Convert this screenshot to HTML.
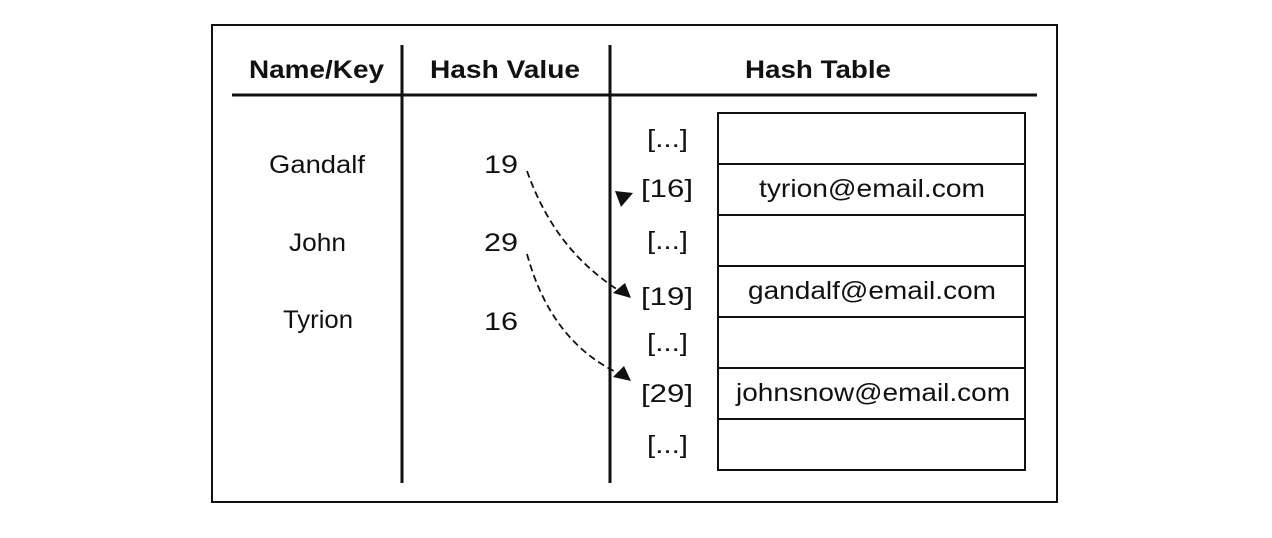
<!DOCTYPE html>
<html><head><meta charset="utf-8"><style>
html,body{margin:0;padding:0;background:#fff;}
svg{display:block;font-family:"Liberation Sans",sans-serif;}
</style></head><body>
<svg width="1272" height="538" viewBox="0 0 1272 538">
<rect x="212" y="25" width="845" height="477" fill="#fff" stroke="#111" stroke-width="2"/>
<line x1="232" y1="95" x2="1037" y2="95" stroke="#111" stroke-width="3"/>
<line x1="402" y1="45" x2="402" y2="483" stroke="#111" stroke-width="3"/>
<line x1="610" y1="45" x2="610" y2="483" stroke="#111" stroke-width="3"/>
<g font-weight="bold" font-size="25" fill="#111" lengthAdjust="spacingAndGlyphs">
<text x="249" y="78" textLength="135" lengthAdjust="spacingAndGlyphs">Name/Key</text>
<text x="430" y="78" textLength="150" lengthAdjust="spacingAndGlyphs">Hash Value</text>
<text x="745" y="78" textLength="146" lengthAdjust="spacingAndGlyphs">Hash Table</text>
</g>
<g font-size="25" fill="#111">
<text x="269" y="173" textLength="96" lengthAdjust="spacingAndGlyphs">Gandalf</text>
<text x="289" y="251" textLength="57" lengthAdjust="spacingAndGlyphs">John</text>
<text x="283" y="328" textLength="70" lengthAdjust="spacingAndGlyphs">Tyrion</text>
<text x="484" y="173" textLength="34" lengthAdjust="spacingAndGlyphs">19</text>
<text x="484" y="251" textLength="34" lengthAdjust="spacingAndGlyphs">29</text>
<text x="484" y="330" textLength="34" lengthAdjust="spacingAndGlyphs">16</text>
<text x="647" y="147" textLength="41" lengthAdjust="spacingAndGlyphs">[...]</text>
<text x="641" y="197" textLength="52" lengthAdjust="spacingAndGlyphs">[16]</text>
<text x="647" y="249" textLength="41" lengthAdjust="spacingAndGlyphs">[...]</text>
<text x="641" y="305" textLength="52" lengthAdjust="spacingAndGlyphs">[19]</text>
<text x="647" y="351" textLength="41" lengthAdjust="spacingAndGlyphs">[...]</text>
<text x="641" y="402" textLength="52" lengthAdjust="spacingAndGlyphs">[29]</text>
<text x="647" y="453" textLength="41" lengthAdjust="spacingAndGlyphs">[...]</text>
</g>
<g fill="#fff" stroke="#111" stroke-width="2">
<rect x="718" y="113" width="307" height="51"/>
<rect x="718" y="164" width="307" height="51"/>
<rect x="718" y="215" width="307" height="51"/>
<rect x="718" y="266" width="307" height="51"/>
<rect x="718" y="317" width="307" height="51"/>
<rect x="718" y="368" width="307" height="51"/>
<rect x="718" y="419" width="307" height="51"/>
</g>
<g font-size="25" fill="#111">
<text x="759" y="197" textLength="226" lengthAdjust="spacingAndGlyphs">tyrion@email.com</text>
<text x="748" y="299" textLength="248" lengthAdjust="spacingAndGlyphs">gandalf@email.com</text>
<text x="736" y="401" textLength="274" lengthAdjust="spacingAndGlyphs">johnsnow@email.com</text>
</g>
<path d="M527 171 C548 230 580 265 618 290" fill="none" stroke="#111" stroke-width="1.8" stroke-dasharray="7,4"/>
<polygon points="613,293 625,283 631,298" fill="#111"/>
<path d="M527 254 C545 320 580 355 618 373" fill="none" stroke="#111" stroke-width="1.8" stroke-dasharray="7,4"/>
<polygon points="613,377 624,366 631,381" fill="#111"/>
<polygon points="615,191 633,193 621,207" fill="#111"/>
</svg>
</body></html>
